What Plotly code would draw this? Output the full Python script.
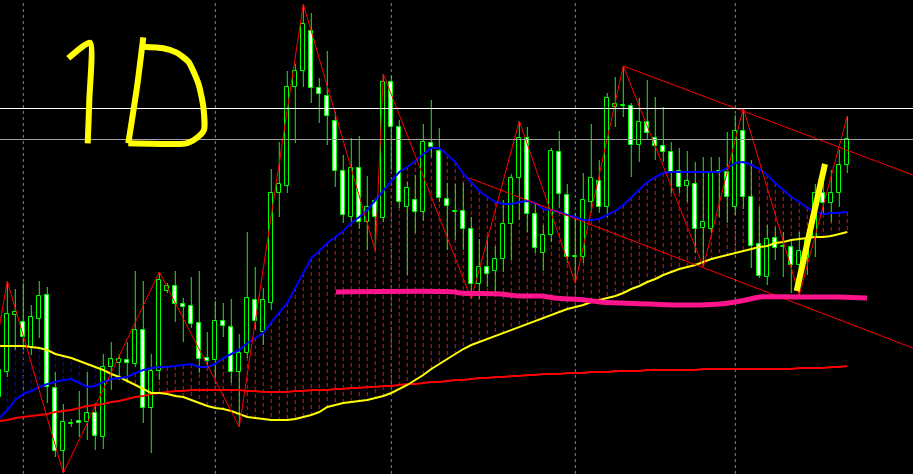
import plotly.graph_objects as go

# ---------------- data (price units, bar index) ----------------
bar_index = list(range(-1, 106))

opens = [77, 102, 159, 152, 127, 155, 179, 86, 23, 50, 53, 52, 61, 37, 107, 111, 114, 110, 144, 66,
         103, 183, 188, 170, 168, 151, 116, 114, 153, 147, 102, 121, 174, 142, 171, 281, 288, 387, 403, 443,
         386, 378, 353, 303, 257, 306, 252, 273, 256, 392, 347, 267, 274, 262, 331, 323, 275, 262, 263, 245,
         190, 207, 203, 215, 250, 296, 336, 260, 221, 239, 322, 279, 217, 217, 272, 293, 267, 367, 368, 368,
         329, 352, 336, 328, 322, 303, 288, 290, 246, 245, 302, 302, 267, 343, 277, 230, 197, 236, 227, 227,
         209, 216, 237, 281, 271, 281, 309]
highs = [114, 193, 185, 191, 169, 193, 187, 102, 70, 55, 83, 102, 71, 120, 132, 120, 132, 203, 193, 120,
         202, 191, 203, 176, 197, 203, 142, 173, 171, 175, 140, 242, 207, 186, 305, 332, 403, 410, 470, 461,
         396, 423, 362, 319, 336, 338, 298, 276, 400, 398, 354, 292, 299, 350, 374, 346, 291, 290, 291, 257,
         235, 238, 228, 274, 300, 353, 347, 271, 249, 326, 343, 290, 261, 301, 350, 314, 381, 397, 408, 371,
         376, 394, 377, 367, 332, 326, 323, 312, 317, 317, 317, 342, 359, 366, 314, 267, 249, 247, 242, 234,
         242, 242, 290, 291, 304, 324, 358]
lows = [69, 97, 124, 124, 119, 136, 71, 17, 1, 47, 37, 34, 24, 25, 84, 94, 91, 107, 51, 21,
        94, 181, 152, 132, 146, 101, 106, 97, 137, 91, 47, 116, 144, 129, 164, 257, 281, 331, 387, 371,
        351, 329, 287, 251, 250, 245, 224, 223, 252, 304, 266, 199, 241, 253, 317, 272, 224, 234, 224, 175,
        175, 187, 182, 202, 214, 254, 242, 221, 203, 232, 266, 211, 191, 211, 261, 261, 257, 347, 357, 297,
        312, 334, 314, 312, 281, 281, 272, 221, 207, 241, 257, 251, 259, 265, 206, 196, 189, 214, 197, 181,
        179, 199, 217, 259, 252, 267, 301]
closes = [104, 160, 162, 137, 157, 178, 87, 23, 52, 51, 51, 61, 38, 107, 115, 115, 111, 144, 66, 103,
          194, 188, 170, 167, 150, 115, 113, 153, 148, 102, 121, 176, 153, 174, 281, 290, 387, 403, 450, 386,
          380, 358, 303, 259, 306, 252, 267, 257, 392, 347, 272, 286, 262, 332, 327, 276, 268, 263, 245, 190,
          207, 200, 215, 250, 296, 336, 260, 226, 239, 323, 280, 217, 218, 274, 296, 267, 376, 370, 369, 329,
          352, 341, 328, 322, 302, 287, 293, 245, 252, 302, 303, 277, 343, 277, 228, 198, 235, 226, 228, 209,
          223, 234, 281, 271, 281, 309, 335]

ma_fast = [56, 64, 74, 80, 83, 87, 90, 92, 94, 95, 91, 87, 88, 92, 95, 96, 97, 101, 104, 106,
           107, 107, 108, 109, 110, 107, 107, 110, 116, 120, 124, 131, 136, 141, 152, 162, 171, 186, 201, 216,
           223, 231, 237, 243, 251, 257, 264, 274, 284, 293, 302, 307, 313, 320, 326, 326, 319, 312, 300, 291,
           283, 277, 272, 270, 270, 272, 273, 271, 265, 264, 262, 259, 257, 254, 254, 255, 259, 263, 269, 277,
           285, 292, 297, 301, 302, 302, 302, 302, 302, 302, 302, 306, 311, 312, 309, 305, 299, 291, 284, 277,
           272, 266, 262, 260, 261, 261, 262]
ma_mid = [128, 128, 128, 128, 127, 126, 124, 120, 118, 116, 113, 110, 107, 104, 100, 97, 93, 89, 85, 81,
          81, 80, 78, 77, 74, 71, 68, 66, 65, 63, 60, 57, 56, 55, 54, 54, 54, 55, 57, 59,
          62, 67, 69, 71, 72, 73, 74, 76, 78, 81, 85, 89, 94, 99, 105, 110, 115, 120, 125, 129,
          132, 135, 138, 141, 144, 147, 150, 153, 156, 159, 162, 165, 167, 169, 172, 174, 176, 178, 181, 185,
          188, 192, 195, 199, 202, 205, 207, 209, 212, 215, 217, 219, 221, 223, 225, 227, 228, 231, 232, 234,
          235, 236, 237, 237, 238, 240, 242]
ma_slow = [53, 54, 56, 57, 58, 59, 60, 62, 63, 64, 66, 68, 69, 70, 72, 73, 75, 77, 78, 80,
           81, 82, 83, 83, 84, 84, 84, 84, 84, 84, 84, 83, 83, 82, 82, 82, 82, 83, 83, 84,
           84, 84, 85, 85, 86, 86, 87, 87, 88, 88, 89, 90, 90, 91, 92, 92, 93, 94, 94, 95,
           96, 96, 97, 97, 98, 98, 99, 99, 100, 100, 100, 101, 101, 101, 102, 102, 102, 103, 103, 103,
           103, 104, 104, 104, 104, 104, 104, 104, 105, 105, 105, 105, 105, 105, 105, 105, 105, 105, 105, 105,
           106, 106, 106, 106, 107, 107, 108]

zigzag_bar = [-2, 0, 7, 19, 29, 37, 46, 47, 58, 64, 71, 77, 87, 92, 99, 105]
zigzag_price = [101, 193, 1, 202, 47, 470, 223, 400, 175, 353, 191, 408, 207, 366, 179, 358]

channel_upper_bar = [77, 113.2]
channel_upper_price = [408, 299]
channel_lower_bar = [57.83, 113.2]
channel_lower_price = [295.7, 126]

h_levels = [365.5, 334.5]
h_colors = ["#ffffff", "#a0a0a0"]
month_start_bars = [2, 26, 48, 71, 91]

# hand drawings (screen pixels)
support_px_x = [336, 455, 460, 500, 510, 520, 540, 555, 585, 600, 620, 650, 680, 700, 720, 735, 750, 760, 800, 840, 867]
support_px_y = [292, 292, 293, 294, 295, 296, 296, 298, 300, 302, 303, 304, 305, 305, 304, 302, 299, 297, 297, 297, 298]
slash_px_x = [796.7, 811.5, 825]
slash_px_y = [291, 224, 164]
one_px_x = [68.3, 90, 89.3, 87.7]
one_px_y = [58.3, 42.7, 100, 143.3]
d_stem_px_x = [143.3, 137, 128.3]
d_stem_px_y = [37.3, 87, 143.3]
d_bowl_px_x = [143.3, 163.3, 176.7, 188.3, 198.3, 203.3, 204, 198.3, 188.3, 180, 128.3]
d_bowl_px_y = [46.7, 48.3, 52.7, 61.7, 83.3, 106.7, 130, 136.7, 142.7, 144, 143.3]

assert len(opens) == len(highs) == len(lows) == len(closes) == len(bar_index)
assert len(ma_fast) == len(ma_mid) == len(ma_slow) == len(bar_index)

W, H = 913, 474
x_lo, x_hi = -0.9125, 113.2125
y_lo, y_hi = 0, 474

fig = go.Figure()

# --- layer 1 (x, y): dashed fill between fast and mid MA
rx, ry, bx, by = [], [], [], []
for i, b in enumerate(bar_index):
    if b < 0:
        continue
    if ma_fast[i] >= ma_mid[i]:
        rx += [b, b, None]; ry += [ma_fast[i], ma_mid[i], None]
    else:
        bx += [b, b, None]; by += [ma_fast[i], ma_mid[i], None]
fig.add_trace(go.Scatter(x=rx, y=ry, mode="lines", line=dict(color="#ff0000", width=1, dash="4px,3px"), hoverinfo="skip"))
fig.add_trace(go.Scatter(x=bx, y=by, mode="lines", line=dict(color="#0000ff", width=1, dash="4px,3px"), hoverinfo="skip"))

# --- layer 2 (x2, y2): candles
body_base = [min(o, c) for o, c in zip(opens, closes)]
body_len = [max(abs(c - o), 1) for o, c in zip(opens, closes)]
body_fill = ["#000000" if c >= o else "#ffffff" for o, c in zip(opens, closes)]
wx, wy = [], []
for b, o, h, l, c in zip(bar_index, opens, highs, lows, closes):
    top, bot = max(o, c), min(o, c)
    wx += [b, b, None, b, b, None]
    wy += [h, top, None, bot, l, None]
fig.add_trace(go.Scatter(x=wx, y=wy, xaxis="x2", yaxis="y2", mode="lines",
                         line=dict(color="#00ff00", width=1)))
fig.add_trace(go.Bar(x=bar_index, y=body_len, base=body_base, xaxis="x2", yaxis="y2", width=0.5,
                     marker=dict(color=body_fill, line=dict(color="#00ff00", width=1))))

# --- layer 3 (x3, y3): indicators and objects
fig.add_trace(go.Scatter(x=bar_index, y=ma_slow, xaxis="x3", yaxis="y3", mode="lines", line=dict(color="#ff0000", width=2)))
fig.add_trace(go.Scatter(x=bar_index, y=ma_mid, xaxis="x3", yaxis="y3", mode="lines", line=dict(color="#ffff00", width=2)))
fig.add_trace(go.Scatter(x=bar_index, y=ma_fast, xaxis="x3", yaxis="y3", mode="lines", line=dict(color="#0000ff", width=2)))
fig.add_trace(go.Scatter(x=zigzag_bar, y=zigzag_price, xaxis="x3", yaxis="y3", mode="lines", line=dict(color="#ff0000", width=1)))
fig.add_trace(go.Scatter(x=channel_upper_bar, y=channel_upper_price, xaxis="x3", yaxis="y3", mode="lines", line=dict(color="#ff0000", width=1)))
fig.add_trace(go.Scatter(x=channel_lower_bar, y=channel_lower_price, xaxis="x3", yaxis="y3", mode="lines", line=dict(color="#ff0000", width=1)))
for lvl, col in zip(h_levels, h_colors):
    fig.add_trace(go.Scatter(x=[x_lo, x_hi], y=[lvl, lvl], xaxis="x3", yaxis="y3", mode="lines", line=dict(color=col, width=1)))

# --- layer 4 (x4, y4): hand drawings on a pixel canvas
fig.add_trace(go.Scatter(x=support_px_x, y=support_px_y, xaxis="x4", yaxis="y4", mode="lines",
                         line=dict(color="#ff148c", width=5, shape="spline")))
fig.add_trace(go.Scatter(x=slash_px_x, y=slash_px_y, xaxis="x4", yaxis="y4", mode="lines",
                         line=dict(color="#ffff00", width=6, shape="spline")))
for xs, ys in [(one_px_x, one_px_y), (d_stem_px_x, d_stem_px_y), (d_bowl_px_x, d_bowl_px_y)]:
    fig.add_trace(go.Scatter(x=xs, y=ys, xaxis="x4", yaxis="y4", mode="lines",
                             line=dict(color="#ffff00", width=6, shape="spline", smoothing=0.6)))

shapes = []
for b in month_start_bars:
    shapes.append(dict(type="line", xref="x", yref="paper", x0=b, x1=b, y0=0, y1=1,
                       line=dict(color="#808080", width=1, dash="3px,3px"), layer="below"))

hidden = dict(visible=False, fixedrange=True)
fig.update_layout(
    width=W, height=H, margin=dict(l=0, r=0, t=0, b=0),
    paper_bgcolor="#000000", plot_bgcolor="#000000", showlegend=False,
    shapes=shapes, bargap=0,
    xaxis=dict(range=[x_lo, x_hi], **hidden),
    yaxis=dict(range=[y_lo, y_hi], **hidden),
    xaxis2=dict(range=[x_lo, x_hi], overlaying="x", anchor="y2", **hidden),
    yaxis2=dict(range=[y_lo, y_hi], overlaying="y", anchor="x2", **hidden),
    xaxis3=dict(range=[x_lo, x_hi], overlaying="x", anchor="y3", **hidden),
    yaxis3=dict(range=[y_lo, y_hi], overlaying="y", anchor="x3", **hidden),
    xaxis4=dict(range=[0, W], overlaying="x", anchor="y4", **hidden),
    yaxis4=dict(range=[H, 0], overlaying="y", anchor="x4", **hidden),
    hovermode=False,
)

fig.write_html("out.html", post_script="document.body.style.margin='0';document.body.style.background='#000';",
               config={"displayModeBar": False})
